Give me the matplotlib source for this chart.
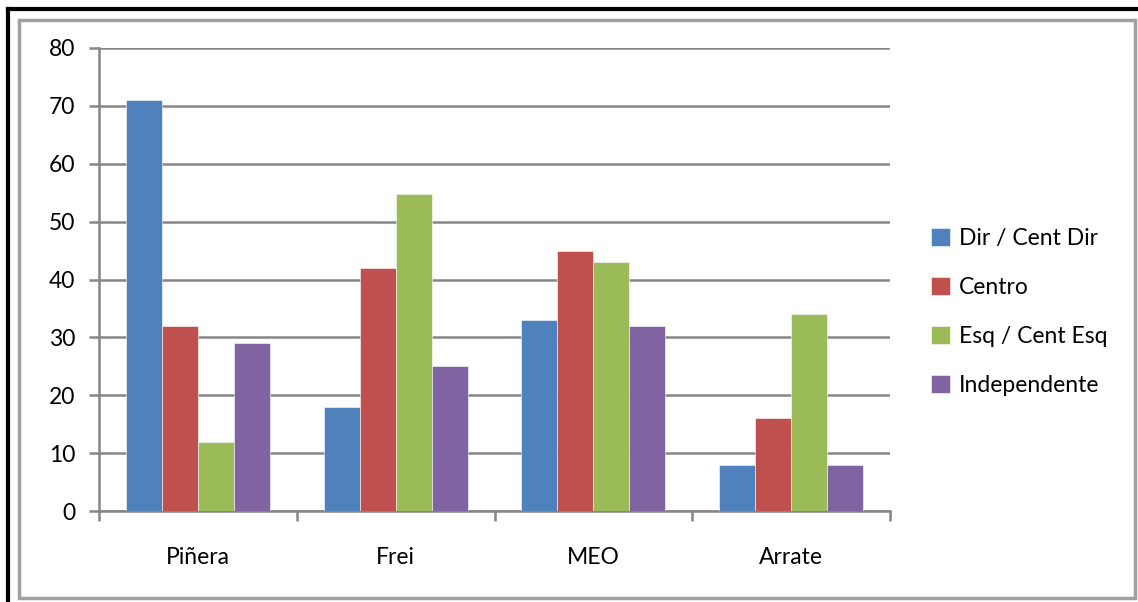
import numpy as np
import matplotlib
matplotlib.use("Agg")
import matplotlib.pyplot as plt
from matplotlib.lines import Line2D
from matplotlib.patches import Rectangle

plt.rcParams['font.family'] = ['Lato', 'DejaVu Sans']

candidates = ['Piñera', 'Frei', 'MEO', 'Arrate']
groups = ['Dir / Cent Dir', 'Centro', 'Esq / Cent Esq', 'Independente']
dir_cent_dir = [71, 18, 33, 8]
centro = [32, 42, 45, 16]
esq_cent_esq = [12, 54.7, 43, 34]
independente = [29, 25, 32, 8]
y_ticks = [0, 10, 20, 30, 40, 50, 60, 70, 80]

colors = ['#4F81BD', '#C0504D', '#9BBB59', '#8064A2']
GRID = '#868686'
FS = 16.5

series = [dir_cent_dir, centro, esq_cent_esq, independente]

fig = plt.figure(figsize=(11.38, 6.02), dpi=100)
ax = fig.add_axes([99 / 1138, 91 / 602, 791 / 1138, 463 / 602])

x = np.arange(len(candidates))
bar_w = 1 / 5.5
for i, (vals, name) in enumerate(zip(series, groups)):
    ax.bar(x + (i - 1.5) * bar_w, vals, bar_w, color=colors[i], label=name,
           edgecolor='white', linewidth=0.4, zorder=3)

ax.set_xlim(-0.5, len(candidates) - 0.5)
ax.set_ylim(0, 80)
ax.set_yticks(y_ticks)
ax.yaxis.grid(True, color=GRID, linewidth=1.8, zorder=0)
ax.set_axisbelow(True)

# category tick marks sit between the groups
ax.set_xticks(np.arange(len(candidates) + 1) - 0.5)
ax.set_xticklabels([])
ax.set_xticks(x, minor=True)
ax.set_xticklabels(candidates, minor=True)
ax.tick_params(axis='x', which='minor', length=0, pad=26, labelsize=FS)
ax.tick_params(axis='x', which='major', length=7, width=1.8, color=GRID)
ax.tick_params(axis='y', length=7, width=1.8, color=GRID, labelsize=FS, pad=10)

for side in ['top', 'right']:
    ax.spines[side].set_visible(False)
for side in ['left', 'bottom']:
    ax.spines[side].set_color(GRID)
    ax.spines[side].set_linewidth(1.8)

ax.legend(loc='center left', bbox_to_anchor=(922 / 1138, 290 / 602),
          bbox_transform=fig.transFigure, frameon=False, fontsize=FS,
          handlelength=0.8, handleheight=0.8, handletextpad=0.4,
          labelspacing=1.22, borderaxespad=0)

# chart frame and outer border
fig.add_artist(Rectangle((19 / 1138, 4 / 602), 1116 / 1138, 578 / 602,
                         transform=fig.transFigure, fill=False,
                         edgecolor='#A0A0A0', linewidth=2.5))
fig.add_artist(Line2D([8 / 1138, 8 / 1138], [0, 593 / 602],
                      transform=fig.transFigure, color='black', linewidth=3))
fig.add_artist(Line2D([8 / 1138, 1], [593 / 602, 593 / 602],
                      transform=fig.transFigure, color='black', linewidth=3))

fig.savefig('out.png', dpi=100)
